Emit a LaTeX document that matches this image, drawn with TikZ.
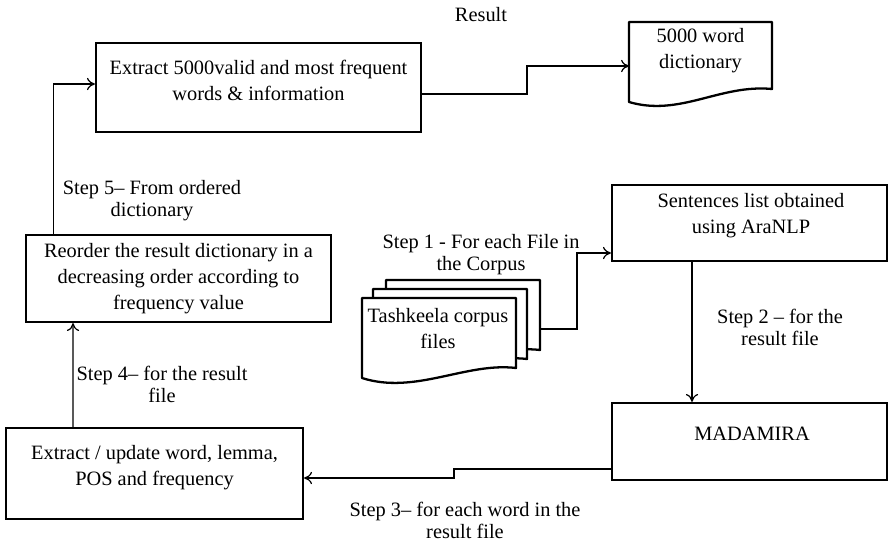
\documentclass[tikz,border=0pt]{standalone}
\usepackage{fontspec}
\setmainfont{Liberation Serif}
\usepackage{tikz}
\usetikzlibrary{arrows.meta}

\begin{document}
\begin{tikzpicture}[x=0.02cm,y=-0.02cm,>={To[length=4.5pt,width=7pt]},
  box/.style={draw,rectangle,line width=1.3pt,inner sep=0pt},
  boxtext/.style={align=center,inner sep=0pt,font=\fontsize{11.6}{14.8}\selectfont},
  steptext/.style={align=center,inner sep=0pt,font=\fontsize{11.6}{12.6}\selectfont},
  conn/.style={line width=0.7pt},
  doc/.style={line width=1.3pt,fill=white,line join=round}]
\useasboundingbox (0,0) rectangle (890,541);
%
\node (xtr) at (258.5,87.5) [box,minimum width=6.5cm,minimum height=1.78cm] {};
\node (xtrtxt) at (258.5,80.5) [boxtext] {Extract 5000valid and most frequent\\words \& information};
\node (sent) at (749.5,223) [box,minimum width=5.5cm,minimum height=1.52cm] {};
\node (senttxt) at (751,215.5) [boxtext] {Sentences list obtained\\using AraNLP};
\node (mad) at (749.5,441.5) [box,minimum width=5.5cm,minimum height=1.54cm] {};
\node (madtxt) at (752,434) [boxtext] {MADAMIRA};
\node (rord) at (178.5,278.5) [box,minimum width=6.1cm,minimum height=1.74cm] {};
\node (rordtxt) at (178.5,279) [boxtext] {Reorder the result dictionary in a\\decreasing order according to\\frequency value};
\node (updt) at (154.5,473.5) [box,minimum width=5.94cm,minimum height=1.82cm] {};
\node (updttxt) at (154.5,467.5) [boxtext] {Extract / update word, lemma,\\POS and frequency};
%%
\draw [doc] (629,22) -- (772,22) -- (772,89) .. controls (720,84) and (680,117) .. (629,102) -- cycle;
\node (dict) at (700.5,50.5) [boxtext] {5000 word\\dictionary};
\coordinate (dictin) at (629,66);
%
\draw [doc] (386,280) -- (540,280) -- (540,350) .. controls (490,344) and (439,377) .. (386,360) -- cycle;
\draw [doc] (373,289) -- (527,289) -- (527,359) .. controls (477,353) and (426,386) .. (373,369) -- cycle;
\draw [doc] (362,298) -- (516,298) -- (516,368) .. controls (466,362) and (415,395) .. (362,378) -- cycle;
\node (corp) at (438,328.5) [boxtext] {Tashkeela corpus\\files};
\coordinate (corpout) at (540,329);
%%
\node (result) at (481,15) [steptext] {Result};
\node (step1) at (481,254.5) [steptext] {Step 1 - For each File in\\the Corpus};
\node (step2) at (780,327) [steptext] {Step 2 – for the\\result file};
\node (step3) at (465,520) [steptext] {Step 3– for each word in the\\result file};
\node (step4) at (162,384) [steptext] {Step 4– for the result\\file};
\node (step5) at (152,201) [steptext] {Step 5– From ordered\\dictionary};
%%
\draw [conn,->] (corpout) -- ++(37,0) |- ([yshift=-0.6cm]sent.west);
\draw [conn,->] ([xshift=-1.15cm]sent.south) -- ([xshift=-1.15cm]mad.north);
\draw [conn,->] ([yshift=-0.55cm]mad.west) -- ++(-157,0) |- ([yshift=-0.09cm]updt.east);
\draw [conn,->] ([xshift=-1.63cm]updt.north) -- ([xshift=-2.11cm]rord.south);
\draw [conn,->] ([xshift=0.58cm]rord.north west) |- ([yshift=0.07cm]xtr.west);
\draw [conn,->] ([yshift=-0.13cm]xtr.east) -- ++(105,0) |- (dictin);
\end{tikzpicture}
\end{document}
